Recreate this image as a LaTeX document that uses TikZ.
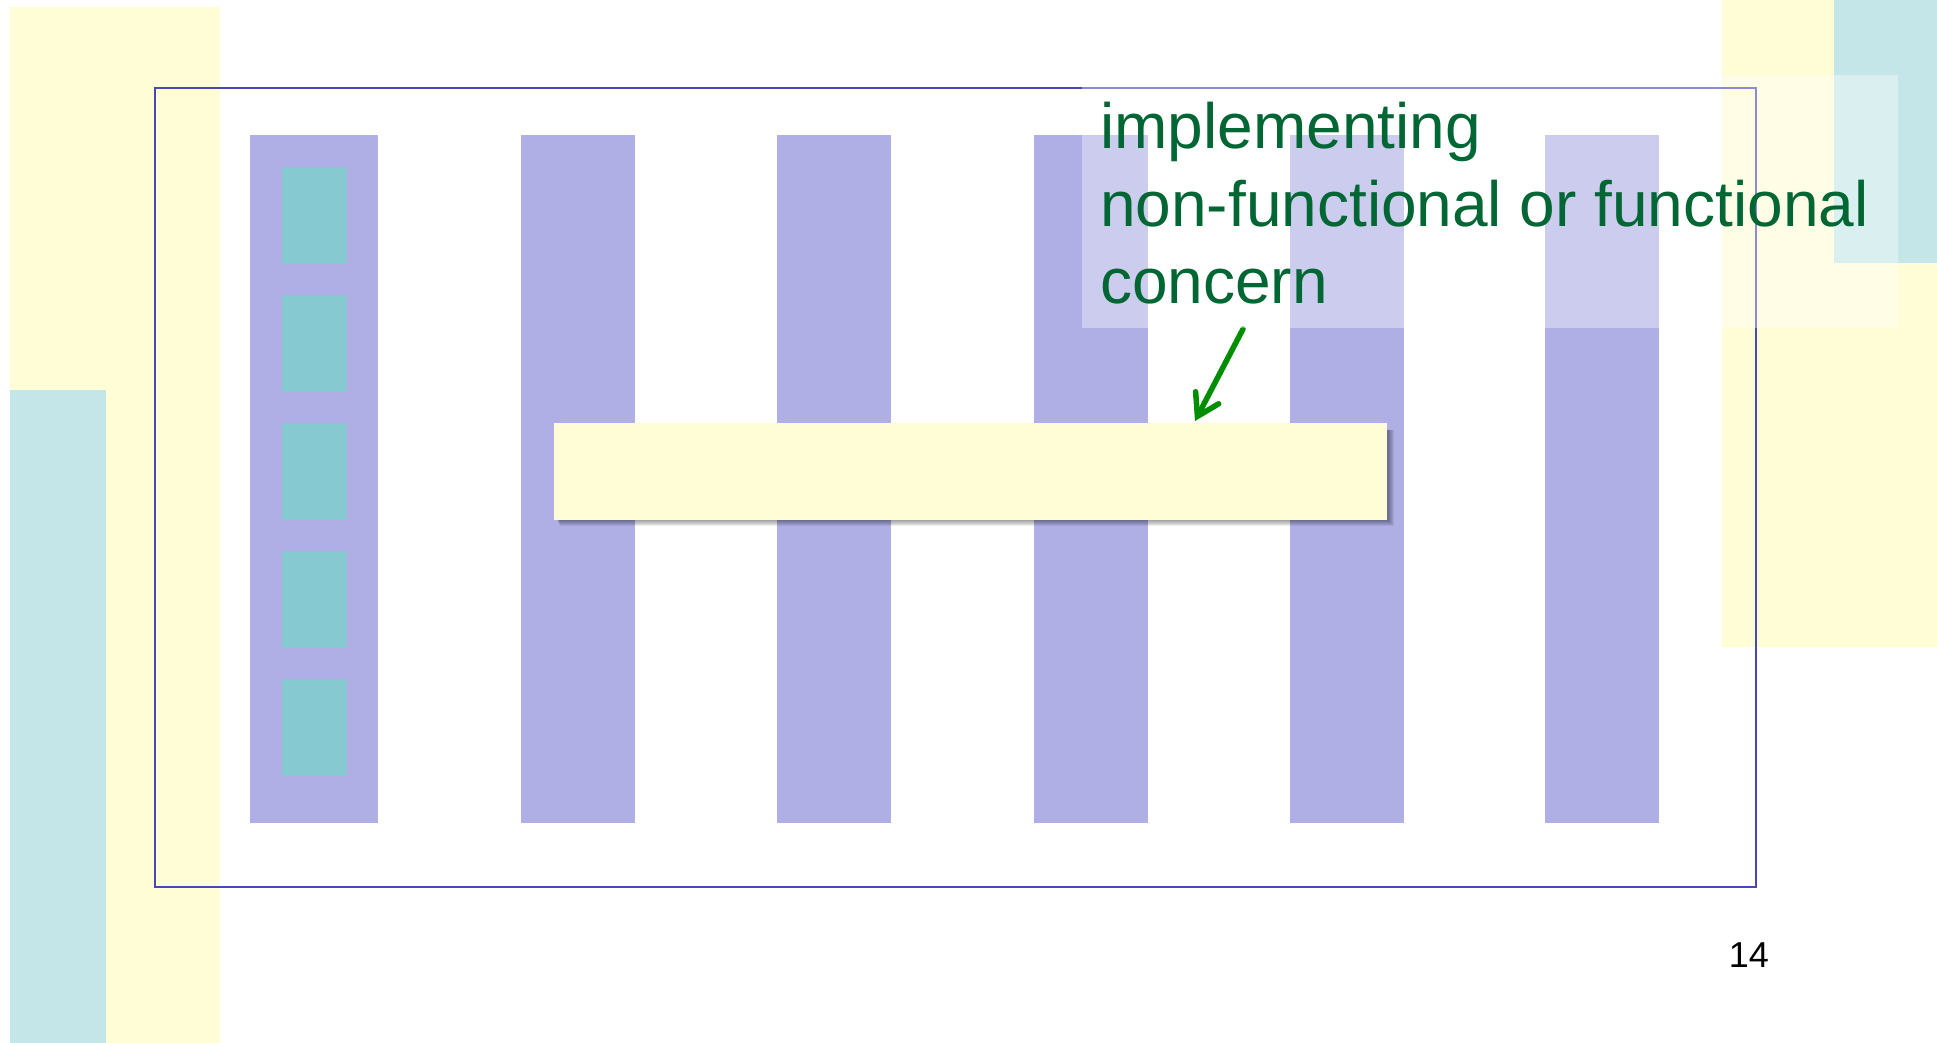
\documentclass[tikz,border=0pt]{standalone}
\usepackage{fontspec}
\setmainfont{Liberation Sans}
\usetikzlibrary{arrows.meta}
\definecolor{bgyellow}{HTML}{FFFDD6}
\definecolor{bgcyan}{HTML}{C4E6E8}
\definecolor{colpurple}{HTML}{AFAFE5}
\definecolor{sqteal}{HTML}{86C9D0}
\definecolor{framecol}{RGB}{72,72,180}
\definecolor{txtgreen}{HTML}{006633}
\definecolor{arrgreen}{RGB}{0,142,0}
\begin{document}
\begin{tikzpicture}[x=1pt,y=-1pt,
  block/.style={fill=#1, draw=none, inner sep=0pt, outer sep=0pt, anchor=north west},
  column/.style={block=colpurple, minimum width=#1, minimum height=688pt},
  square/.style={block=sqteal, minimum width=65pt, minimum height=97pt},
  lbl/.style={text=txtgreen, inner sep=0pt, anchor=base west, font=\fontsize{64}{77}\selectfont},
  pointer/.style={draw=arrgreen, line width=5.5pt, line cap=round, -{Straight Barb[length=21pt,width=26pt,line cap=round]}}
]
\useasboundingbox (0,0) rectangle (1937,1043);
% background decorations
\fill[bgyellow] (10,7) rectangle (220,1043);
\fill[bgcyan] (10,390) rectangle (106,1043);
\fill[bgyellow] (1722,0) rectangle (1937,647);
\fill[bgcyan] (1834,0) rectangle (1937,263);
% frame
\node[draw=framecol, line width=2.2pt, inner sep=0pt, anchor=north west, minimum width=1601pt, minimum height=799pt] (frame) at (154,87) {};
% columns
\node[column=128pt] (col1) at (250,135) {};
\node[column=114pt] (col2) at (521,135) {};
\node[column=114pt] (col3) at (777,135) {};
\node[column=114pt] (col4) at (1034,135) {};
\node[column=114pt] (col5) at (1290,135) {};
\node[column=114pt] (col6) at (1545,135) {};
% squares in first column
\node[square] (sq1) at (282,167) {};
\node[square] (sq2) at (282,295) {};
\node[square] (sq3) at (282,423) {};
\node[square] (sq4) at (282,551) {};
\node[square] (sq5) at (282,679) {};
% soft shadow of the crosscutting bar (below and right only)
\foreach \e in {0,1,2,3,4,5}
  \fill[black, opacity=0.07] ({557+\e/2},430) rectangle ({1389+\e},{521+\e});
% crosscutting bar
\node[block=bgyellow, minimum width=833pt, minimum height=97pt] (bar) at (554,423) {};
% arrow
\coordinate (arrowtail) at (1243,329);
\coordinate (arrowtip) at (1195,421);
\draw[pointer] (arrowtail) -- (arrowtip);
% translucent label background
\fill[white, opacity=0.37] (1082,75) rectangle (1898,328);
% label
\node[lbl] (t1) at (1100,149) {implementing};
\node[lbl] (t2) at (1100,226) {non-functional or functional};
\node[lbl] (t3) at (1100,303) {concern};
% page number
\node[inner sep=0pt, anchor=base east, font=\fontsize{36}{43}\selectfont] (pagenum) at (1769,967) {14};
\end{tikzpicture}
\end{document}
